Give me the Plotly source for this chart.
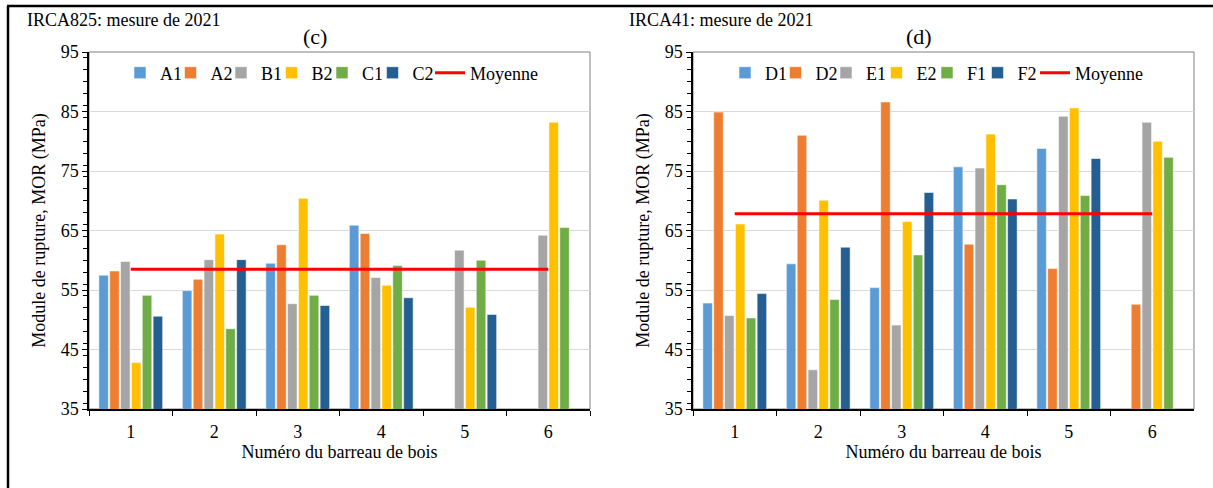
import plotly.graph_objects as go

# Data
bars = ['1', '2', '3', '4', '5', '6']

series_c = ['A1', 'A2', 'B1', 'B2', 'C1', 'C2']
A1 = [57.5, 54.9, 59.5, 65.9, None, None]
A2 = [58.2, 56.8, 62.6, 64.5, None, None]
B1 = [59.8, 60.1, 52.7, 57.1, 61.7, 64.2]
B2 = [42.8, 64.4, 70.4, 55.8, 52.1, 83.2]
C1 = [54.1, 48.5, 54.1, 59.1, 60.0, 65.5]
C2 = [50.6, 60.1, 52.4, 53.7, 50.9, None]
mean_c = 58.5

series_d = ['D1', 'D2', 'E1', 'E2', 'F1', 'F2']
D1 = [52.8, 59.4, 55.4, 75.7, 78.8, None]
D2 = [84.9, 81.0, 86.6, 62.7, 58.6, 52.6]
E1 = [50.7, 41.6, 49.1, 75.5, 84.2, 83.2]
E2 = [66.1, 70.1, 66.5, 81.2, 85.6, 80.0]
F1 = [50.3, 53.4, 60.9, 72.7, 70.9, 77.3]
F2 = [54.4, 62.2, 71.4, 70.3, 77.1, None]
mean_d = 67.8

colors = ['#5B9BD5', '#ED7D31', '#A5A5A5', '#FFC000', '#70AD47', '#255E91']

W, H = 1213, 488
FONT = 'Liberation Serif, Times New Roman, serif'


def px_x(p):
    return p / W


def px_y(p):
    return 1 - p / H


fig = go.Figure()

panels = [
    (series_c, [A1, A2, B1, B2, C1, C2], mean_c, 'x', 'y', 'legend'),
    (series_d, [D1, D2, E1, E2, F1, F2], mean_d, 'x2', 'y2', 'legend2'),
]

for names, values, mean, xa, ya, leg in panels:
    for i, (name, vals, color) in enumerate(zip(names, values, colors)):
        fig.add_trace(go.Bar(
            x=bars, y=vals, name=name, xaxis=xa, yaxis=ya, legend=leg,
            legendwidth=12.5 if i == len(names) - 1 else 5.5,
            marker=dict(color=color, line=dict(color='rgba(255,255,255,0.7)', width=0.8)),
        ))
    fig.add_trace(go.Scatter(
        x=bars, y=[mean] * len(bars), name='Moyenne', mode='lines',
        xaxis=xa, yaxis=ya, legend=leg, legendwidth=75,
        line=dict(color='#FF0000', width=3),
    ))

x_common = dict(
    type='category', ticks='outside', tickson='boundaries', ticklen=5,
    tickcolor='black', showline=True, linecolor='black', linewidth=1.5,
    showgrid=False, automargin=False, ticklabelstandoff=6,
    tickfont=dict(size=18, family=FONT, color='black'),
    title=dict(text='Numéro du barreau de bois', standoff=4,
               font=dict(size=18, family=FONT, color='black')),
)
y_common = dict(
    range=[35, 95], tick0=35, dtick=10, ticks='outside', ticklen=5,
    tickcolor='black', showline=True, linecolor='black', linewidth=1.5,
    showgrid=True, gridcolor='#D9D9D9', gridwidth=1, zeroline=False,
    automargin=False,
    minor=dict(ticks='outside', dtick=2, ticklen=4, tickcolor='black', showgrid=False),
    tickfont=dict(size=18, family=FONT, color='black'),
    title=dict(text='Module de rupture, MOR (MPa)', standoff=10,
               font=dict(size=18, family=FONT, color='black')),
)

yd = [px_y(409), px_y(52)]
legend_common = dict(
    orientation='h', yanchor='middle', xanchor='left', y=px_y(73),
    font=dict(size=18, family=FONT, color='black'), bgcolor='rgba(0,0,0,0)',
    itemwidth=30, traceorder='normal',
)

fig.update_layout(
    width=W, height=H,
    margin=dict(l=0, r=0, t=0, b=0),
    plot_bgcolor='white', paper_bgcolor='white',
    barmode='group', bargap=0.22, bargroupgap=0.12,
    font=dict(family=FONT, color='black'),
    xaxis=dict(domain=[px_x(89), px_x(590)], anchor='y', **x_common),
    yaxis=dict(domain=yd, anchor='x', **y_common),
    xaxis2=dict(domain=[px_x(693), px_x(1194)], anchor='y2', **x_common),
    yaxis2=dict(domain=yd, anchor='x2', **y_common),
    legend=dict(x=px_x(120), **legend_common),
    legend2=dict(x=px_x(725), **legend_common),
    showlegend=True,
)

# plot-area boxes (grey border like the source)
for xa, ya in [('x', 'y'), ('x2', 'y2')]:
    fig.add_shape(type='rect', xref=f'{xa} domain', yref=f'{ya} domain',
                  x0=0, x1=1, y0=0, y1=1, line=dict(color='#7F7F7F', width=1),
                  layer='below')

# outer frame (top and left edges are visible in the source)
fig.add_shape(type='line', xref='paper', yref='paper',
              x0=px_x(7), x1=1, y0=px_y(6), y1=px_y(6),
              line=dict(color='black', width=2.5))
fig.add_shape(type='line', xref='paper', yref='paper',
              x0=px_x(8), x1=px_x(8), y0=px_y(6), y1=0,
              line=dict(color='black', width=2.5))

annotations = [
    ('IRCA825: mesure de 2021', 25, 20, 'left', 18),
    ('IRCA41: mesure de 2021', 627, 20, 'left', 18),
    ('(c)', 315, 37, 'center', 22),
    ('(d)', 919, 37, 'center', 22),
]
for text, x, y, anchor, size in annotations:
    fig.add_annotation(text=text, xref='paper', yref='paper',
                       x=px_x(x), y=px_y(y), xanchor=anchor, yanchor='middle',
                       showarrow=False, font=dict(size=size, family=FONT, color='black'))

fig.write_html('out.html', config={'displayModeBar': False},
               post_script="document.body.style.margin='0';")
